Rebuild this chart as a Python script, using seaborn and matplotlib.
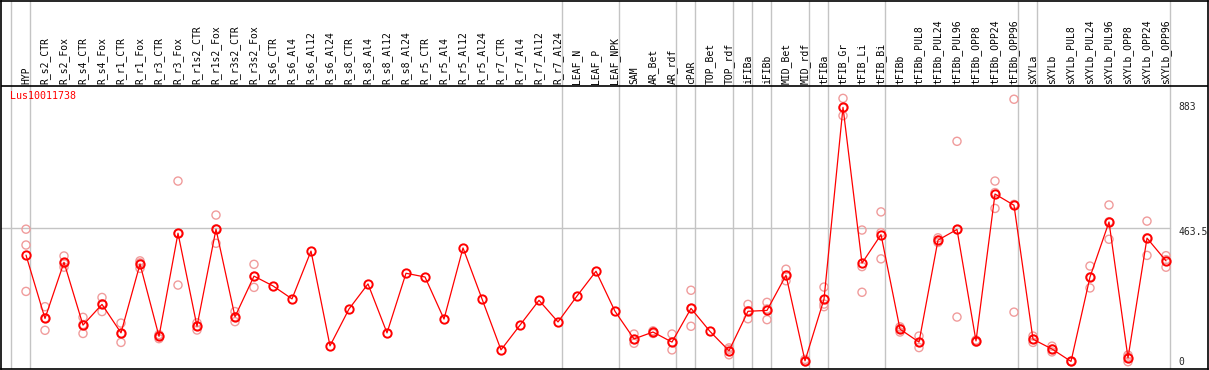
import numpy as np
import pandas as pd
import matplotlib
matplotlib.use("Agg")
import matplotlib.pyplot as plt
import seaborn as sns

gene_id = "Lus10011738"

samples = [
    "HYP", "R_s2_CTR", "R_s2_Fox", "R_s4_CTR", "R_s4_Fox", "R_r1_CTR", "R_r1_Fox",
    "R_r3_CTR", "R_r3_Fox", "R_r1s2_CTR", "R_r1s2_Fox", "R_r3s2_CTR", "R_r3s2_Fox",
    "R_s6_CTR", "R_s6_Al4", "R_s6_Al12", "R_s6_Al24", "R_s8_CTR", "R_s8_Al4",
    "R_s8_Al12", "R_s8_Al24", "R_r5_CTR", "R_r5_Al4", "R_r5_Al12", "R_r5_Al24",
    "R_r7_CTR", "R_r7_Al4", "R_r7_Al12", "R_r7_Al24", "LEAF_N", "LEAF_P", "LEAF_NPK",
    "SAM", "AR_Bet", "AR_rdf", "cPAR", "TOP_Bet", "TOP_rdf", "iFIBa", "iFIBb",
    "MID_Bet", "MID_rdf", "tFIBa", "tFIB_Gr", "tFIB_Li", "tFIB_Bi", "tFIBb",
    "tFIBb_PUL8", "tFIBb_PUL24", "tFIBb_PUL96", "tFIBb_OPP8", "tFIBb_OPP24",
    "tFIBb_OPP96", "sXYLa", "sXYLb", "sXYLb_PUL8", "sXYLb_PUL24", "sXYLb_PUL96",
    "sXYLb_OPP8", "sXYLb_OPP24", "sXYLb_OPP96",
]

# mean expression per sample
mean_expr = [
    370, 150, 345, 127, 199, 100, 339, 88, 446, 123, 460, 156, 297,
    263, 218, 384, 55, 183, 270, 100, 307, 294, 148, 395, 218,
    41, 127, 213, 138, 228, 314, 175,
    79, 103, 68, 185, 105, 38, 175, 178, 300, 3,
    217, 883, 342, 441, 113, 68, 422, 459, 72, 582, 543,
    78, 44, 1, 294, 485, 13, 429, 350,
]

# replicates (nan = single value only)
nan = np.nan
rep_a = [460, 191, 367, 154, 223, 134, 350, 94, 627, 135, 509, 174, 338,
         nan, nan, nan, nan, nan, nan, nan, nan, nan, nan, nan, nan,
         nan, nan, nan, nan, nan, nan, nan,
         96, 107, 96, 248, nan, 48, 199, 206, 321, 8,
         259, 914, 457, 520, 121, 89, 430, 765, 75, 627, 911,
         89, 54, 2, 332, 544, 23, 488, 368]
rep_b = [405, 109, 328, 98, 174, 67, 324, 80, 266, 110, 411, 139, 258,
         nan, nan, nan, nan, nan, nan, nan, nan, nan, nan, nan, nan,
         nan, nan, nan, nan, nan, nan, nan,
         64, 98, 41, 123, nan, 24, 149, 146, 281, 0,
         191, 854, 241, 357, 103, 49, 414, 155, 68, 532, 172,
         67, 34, 0, 256, 425, 0, 369, 328]
rep_c = [244, 151, 340, 129, 201, 98, 343, 90, 445, 124, 461, 156, 296,
         nan, nan, nan, nan, nan, nan, nan, nan, nan, nan, nan, nan,
         nan, nan, nan, nan, nan, nan, nan,
         77, 104, 68, 185, nan, 43, 177, 183, 298, 2,
         200, 881, 330, 448, 116, 67, 422, 458, 73, 587, 546,
         78, 44, 1, 294, 486, 16, 430, 354]

# group separators (drawn before these sample indices)
group_starts = [0, 1, 29, 32, 35, 36, 38, 39, 40, 42, 43, 46, 53, 54, 61]
y_ticks = [0, 463.5, 883]

pos = np.arange(len(samples))
df_mean = pd.DataFrame({"pos": pos, "sample": samples, "expr": mean_expr})
df_reps = pd.DataFrame({
    "pos": np.tile(pos, 3),
    "expr": np.concatenate([rep_a, rep_b, rep_c]),
}).dropna()

sns.set_style("white")
plt.rcParams["font.family"] = ["DejaVu Sans Mono", "DejaVu Sans"]

W, H = 1209, 370
fig = plt.figure(figsize=(W / 100, H / 100), dpi=100)
# axes spans whole picture incl. header; pixel mapping x = 26 + 19*i, y0 at 361.7px
px_per_unit = 0.2881
y_zero_px = 361.7
ax = fig.add_axes([1 / W, 1 / H, 1207 / W, 368.5 / H])
ax.set_xlim((1 - 26) / 19, (1208 - 26) / 19)
ax.set_ylim((y_zero_px - 369) / px_per_unit, (y_zero_px - 0.5) / px_per_unit)


def py(pix):
    return (y_zero_px - pix) / px_per_unit


for s in ax.spines.values():
    s.set_color("black")
    s.set_linewidth(1.2)
ax.set_xticks([])
ax.set_yticks([])

# separators
for g in group_starts:
    ax.axvline(g - 0.774, color="#c4c4c4", lw=1.0, zorder=1)
# header line
ax.axhline(py(85.5), color="black", lw=1.2, zorder=2)
# mid gridline
sep_right = len(samples) - 0.774
ax.plot([ax.get_xlim()[0], sep_right], [463.5, 463.5], color="#c4c4c4", lw=1.0, zorder=1)

sns.scatterplot(data=df_reps, x="pos", y="expr", ax=ax, marker="o", s=34,
                facecolor="none", edgecolor="#f09c9c", linewidth=1.0, zorder=3,
                legend=False)
sns.lineplot(data=df_mean, x="pos", y="expr", ax=ax, color="red", linewidth=0.9,
             marker="o", markersize=6, markerfacecolor="none", markeredgecolor="red",
             markeredgewidth=1.4, errorbar=None, zorder=4, legend=False)

# sample labels in header
for i, name in enumerate(samples):
    ax.text(i, py(83.5), name, rotation=90, ha="center", va="bottom",
            fontsize=7, color="black")

ax.text((9.5 - 26) / 19, py(96), gene_id, color="red", fontsize=7.2,
        ha="left", va="center")

tick_x = (1178.5 - 26) / 19
ax.text(tick_x, 883, "883", fontsize=7, ha="left", va="center")
ax.text(tick_x, 463.5 - 12, "463.5", fontsize=7, ha="left", va="center")
ax.text(tick_x, 0, "0", fontsize=7, ha="left", va="center")

ax.set_xlabel("")
ax.set_ylabel("")
fig.savefig("out.png", dpi=100)
